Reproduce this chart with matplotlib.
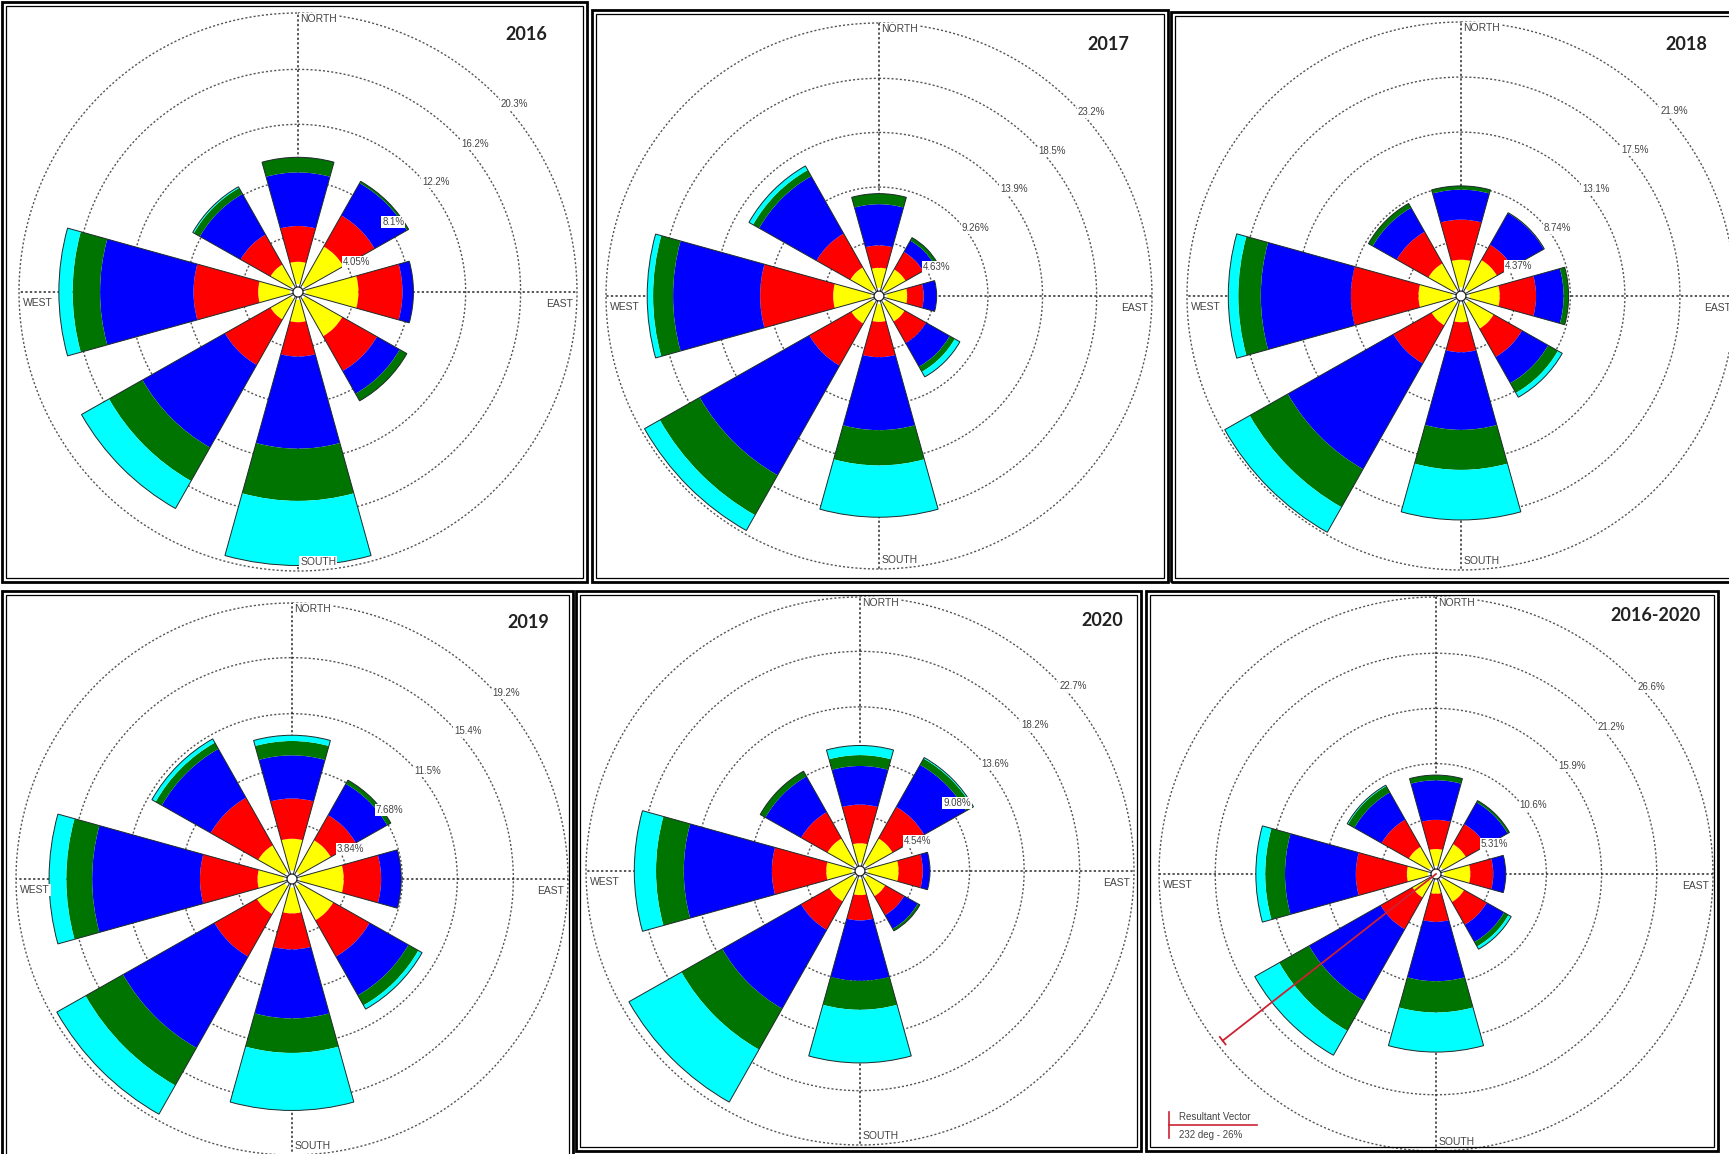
import numpy as np
import matplotlib.pyplot as plt
from matplotlib.patches import Rectangle
from matplotlib.lines import Line2D

FIG_W, FIG_H = 1729, 1154

# wind directions (compass degrees) and speed-class colours, inner to outer
directions = ["N", "NE", "E", "SE", "S", "SW", "W", "NW"]
dir_deg = [0, 45, 90, 135, 180, 225, 270, 315]
class_colors = ["#ffffff", "#ffff00", "#ff0000", "#0000ff", "#007400", "#00ffff"]

# frequency (%) per speed class (rows, inner to outer) and direction (columns)
freq_2016 = [
    [0.6, 0.6, 0.6, 0.6, 0.6, 0.6, 0.6, 0.6],
    [1.6, 3.2, 3.8, 3.1, 1.6, 1.7, 2.3, 1.7],
    [2.6, 2.6, 3.2, 2.9, 2.5, 3.8, 4.7, 2.5],
    [3.9, 2.7, 0.8, 1.9, 6.7, 6.9, 6.8, 3.4],
    [1.1, 0.15, 0.0, 0.6, 3.8, 2.8, 2.0, 0.5],
    [0.0, 0.0, 0.0, 0.0, 4.7, 2.3, 1.0, 0.1],
]
freq_2017 = [
    [0.7, 0.7, 0.7, 0.7, 0.7, 0.7, 0.7, 0.7],
    [1.7, 1.9, 1.7, 1.8, 1.5, 2.0, 3.2, 2.1],
    [1.9, 1.7, 1.4, 2.1, 3.0, 4.1, 6.2, 3.3],
    [3.5, 1.1, 1.1, 2.3, 6.2, 10.7, 7.4, 5.6],
    [0.9, 0.3, 0.0, 0.5, 3.0, 3.9, 1.7, 0.6],
    [0.0, 0.0, 0.0, 0.5, 4.4, 1.5, 0.5, 0.4],
]
freq_2018 = [
    [0.7, 0.7, 0.7, 0.7, 0.7, 0.7, 0.7, 0.7],
    [2.2, 2.6, 2.4, 2.3, 1.4, 2.0, 2.7, 2.3],
    [3.2, 1.4, 2.9, 2.6, 2.4, 3.5, 5.4, 2.9],
    [2.4, 2.9, 2.2, 2.4, 6.2, 9.7, 7.2, 2.2],
    [0.3, 0.05, 0.4, 0.9, 3.2, 3.5, 1.8, 0.4],
    [0.0, 0.0, 0.0, 0.4, 4.0, 2.3, 0.8, 0.0],
]
freq_2019 = [
    [0.6, 0.6, 0.6, 0.6, 0.6, 0.6, 0.6, 0.6],
    [2.2, 2.5, 3.0, 2.7, 1.8, 2.2, 1.8, 2.1],
    [2.8, 2.0, 2.6, 2.9, 2.5, 3.4, 4.0, 3.8],
    [3.0, 2.5, 1.4, 3.1, 4.8, 7.3, 7.5, 3.9],
    [1.0, 0.3, 0.0, 0.8, 2.4, 3.0, 1.8, 0.5],
    [0.4, 0.0, 0.0, 0.3, 4.0, 2.3, 1.2, 0.3],
]
freq_2020 = [
    [0.7, 0.7, 0.7, 0.7, 0.7, 0.7, 0.7, 0.7],
    [1.6, 2.4, 2.5, 1.7, 1.3, 2.2, 2.1, 2.4],
    [3.2, 3.0, 2.0, 1.8, 2.1, 2.7, 4.5, 2.5],
    [3.2, 4.0, 0.6, 1.3, 5.0, 7.5, 7.3, 3.4],
    [0.9, 0.6, 0.0, 0.2, 2.4, 3.9, 2.3, 0.5],
    [0.8, 0.1, 0.0, 0.0, 4.4, 5.0, 1.8, 0.0],
]
freq_all = [
    [0.8, 0.8, 0.8, 0.8, 0.8, 0.8, 0.8, 0.8],
    [1.6, 2.5, 2.5, 2.3, 1.1, 1.8, 2.0, 2.2],
    [2.8, 2.2, 2.2, 2.5, 2.7, 3.5, 4.9, 3.0],
    [3.8, 2.4, 1.2, 1.9, 5.7, 7.9, 6.8, 3.0],
    [0.5, 0.2, 0.0, 0.5, 3.0, 3.3, 1.9, 0.7],
    [0.0, 0.0, 0.0, 0.3, 3.8, 2.7, 0.9, 0.1],
]

# ring values (%) shown on each rose
rings_2016 = [4.05, 8.1, 12.2, 16.2, 20.3]
rings_2017 = [4.63, 9.26, 13.9, 18.5, 23.2]
rings_2018 = [4.37, 8.74, 13.1, 17.5, 21.9]
rings_2019 = [3.84, 7.68, 11.5, 15.4, 19.2]
rings_2020 = [4.54, 9.08, 13.6, 18.2, 22.7]
rings_all = [5.31, 10.6, 15.9, 21.2, 26.6]

titles = ["2016", "2017", "2018", "2019", "2020", "2016-2020"]

# resultant vector of the 2016-2020 rose
resultant_deg = 232
resultant_pct = 26

# layout in pixels: rose centre, outer ring radius, title anchor, frame box
centers = [(298, 292), (879, 296), (1461, 296), (292, 879), (860, 871), (1436, 874)]
radii = [279, 273, 274, 276, 274, 277]
title_pos = [(547, 35), (1129, 45), (1707, 44), (549, 623), (1123, 620), (1701, 615)]
boxes = [(2, 2, 587, 582), (592, 10, 1168, 582), (1171, 12, 1745, 582),
         (2, 591, 573, 1165), (576, 591, 1141, 1151), (1146, 591, 1718, 1151)]

small_font = ["Liberation Sans Narrow", "Liberation Sans", "DejaVu Sans"]


def fx(x):
    return x / FIG_W


def fy(y):
    return 1 - y / FIG_H


fig = plt.figure(figsize=(FIG_W / 100, FIG_H / 100), dpi=100)
fig.patch.set_facecolor("white")


def draw_rose(freqs, rings, center, radius):
    cx, cy = center
    pad = 1.03
    rpx = radius * pad
    ax = fig.add_axes([fx(cx - rpx), fy(cy + rpx), 2 * rpx / FIG_W, 2 * rpx / FIG_H],
                      projection="polar")
    ax.set_theta_zero_location("N")
    ax.set_theta_direction(-1)
    rmax = rings[-1]
    ax.set_ylim(0, rmax * pad)
    ax.axis("off")

    # dotted rings and compass cross
    th = np.linspace(0, 2 * np.pi, 500)
    for r in rings:
        ax.plot(th, np.full_like(th, r), ls=(0, (1.5, 1.5)), color="#555555", lw=1.0, zorder=1)
    for a in (0, np.pi / 2, np.pi, 1.5 * np.pi):
        ax.plot([a, a], [0, rmax], ls=(0, (1.5, 1.5)), color="#2a2a2a", lw=1.1, zorder=1)

    # stacked speed classes
    theta = np.radians(dir_deg)
    width = np.radians(31)
    bottoms = np.zeros(len(theta))
    for row, c in zip(freqs, class_colors):
        row = np.array(row)
        m = row > 0
        ax.bar(theta[m], row[m], width=width, bottom=bottoms[m], color=c,
               linewidth=0, zorder=3)
        bottoms += row
    ax.bar(theta, bottoms, width=width, bottom=0, fill=False, edgecolor="#1e2a2a",
           linewidth=0.7, zorder=4)
    calm = 0.09 * rings[0]
    ax.fill(th, np.full_like(th, calm), facecolor="white", edgecolor="#222222",
            lw=0.9, zorder=5)

    box = dict(boxstyle="square,pad=0.1", fc="white", ec="none")
    for r in rings:
        ax.annotate(f"{r:g}%", xy=(np.radians(45), r), xytext=(4, -6.5),
                    textcoords="offset points", ha="left", va="center",
                    fontsize=7, color="#444444", family=small_font, bbox=box, zorder=7)
    dl = dict(fontsize=7.5, color="#444444", family=small_font, bbox=box, zorder=7,
              textcoords="offset points", va="center")
    ax.annotate("NORTH", xy=(0, rmax), xytext=(1.5, -4.5), ha="left", **dl)
    ax.annotate("SOUTH", xy=(np.pi, rmax), xytext=(1.5, 6.5), ha="left", **dl)
    ax.annotate("WEST", xy=(1.5 * np.pi, rmax), xytext=(3, -8), ha="left", **dl)
    ax.annotate("EAST", xy=(0.5 * np.pi, rmax), xytext=(-3, -8.5), ha="right", **dl)
    return ax


panels = [(freq_2016, rings_2016), (freq_2017, rings_2017), (freq_2018, rings_2018),
          (freq_2019, rings_2019), (freq_2020, rings_2020), (freq_all, rings_all)]

axes = []
for i, (freqs, rings) in enumerate(panels):
    axes.append(draw_rose(freqs, rings, centers[i], radii[i]))
    x0, y0, x1, y1 = boxes[i]
    fig.add_artist(Rectangle((fx(x0), fy(y1)), (x1 - x0) / FIG_W, (y1 - y0) / FIG_H,
                             transform=fig.transFigure, fill=False, lw=2.0, ec="black"))
    fig.add_artist(Rectangle((fx(x0 + 4), fy(y1 - 4)), (x1 - x0 - 8) / FIG_W,
                             (y1 - y0 - 8) / FIG_H, transform=fig.transFigure,
                             fill=False, lw=0.9, ec="black"))
    tx, ty = title_pos[i]
    fig.text(fx(tx), fy(ty), titles[i], ha="right", va="center", fontsize=13,
             fontweight="bold", color="#222222", family=["Lato", "DejaVu Sans"])

# resultant vector on the combined rose
ax = axes[5]
vec_th = np.radians(resultant_deg)
vec_col = "#cc2233"
ax.plot([vec_th, vec_th], [0, resultant_pct], color=vec_col, lw=1.3, zorder=6)
d = 0.45 / resultant_pct
ax.plot([vec_th - d, vec_th + d], [resultant_pct, resultant_pct], color=vec_col,
        lw=1.3, zorder=6)

# legend for the resultant vector
fig.add_artist(Line2D([fx(1169), fx(1169)], [fy(1112), fy(1138)], color=vec_col, lw=1.2))
fig.add_artist(Line2D([fx(1169), fx(1257)], [fy(1125), fy(1125)], color=vec_col, lw=1.2))
fig.text(fx(1179), fy(1117), "Resultant Vector", ha="left", va="center", fontsize=7,
         color="#444444", family=small_font)
fig.text(fx(1179), fy(1135), f"{resultant_deg} deg - {resultant_pct}%", ha="left",
         va="center", fontsize=7, color="#444444", family=small_font)

fig.savefig("out.png", dpi=100, facecolor="white")
